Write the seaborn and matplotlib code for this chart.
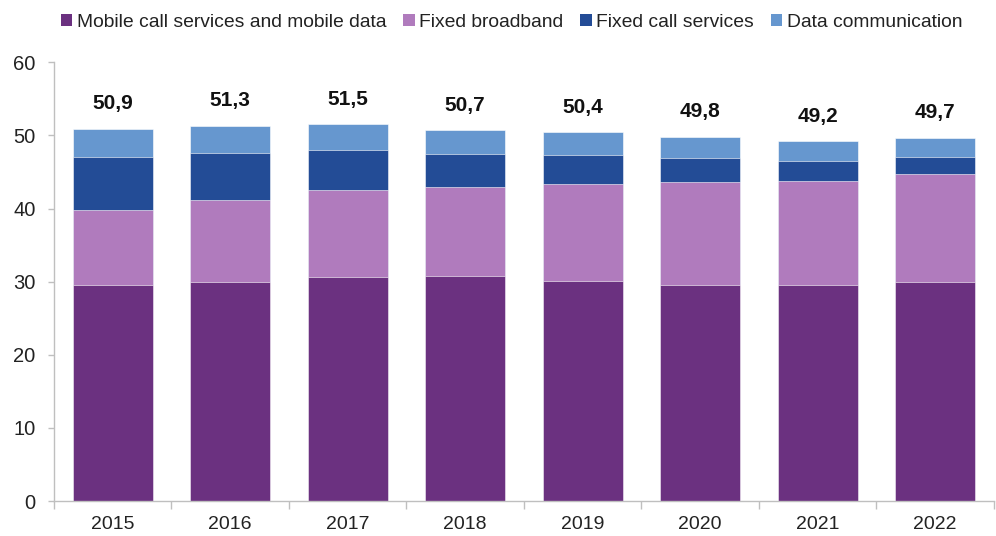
import matplotlib
matplotlib.use("Agg")
import matplotlib.pyplot as plt
from matplotlib.patches import Patch
import numpy as np
import pandas as pd
import seaborn as sns

years = ["2015", "2016", "2017", "2018", "2019", "2020", "2021", "2022"]
mobile = [29.5, 30.0, 30.6, 30.8, 30.1, 29.6, 29.5, 30.0]
fixed_broadband = [10.3, 11.2, 11.9, 12.1, 13.2, 14.0, 14.2, 14.7]
fixed_call = [7.3, 6.4, 5.5, 4.6, 4.0, 3.3, 2.8, 2.3]
data_comm = [3.8, 3.7, 3.5, 3.2, 3.1, 2.9, 2.7, 2.7]

series_names = ["Mobile call services and mobile data", "Fixed broadband",
                "Fixed call services", "Data communication"]
series_values = [mobile, fixed_broadband, fixed_call, data_comm]
colors = ["#6B3180", "#B07BBD", "#234C96", "#6697CF"]

sns.set_theme(style="white")
plt.rcParams["font.family"] = ["Liberation Sans", "DejaVu Sans"]

fig = plt.figure(figsize=(9.96, 5.36), dpi=100)
ax = fig.add_axes([0.054, 0.065, 0.944, 0.819])

# stacked bars: draw cumulative heights from the top layer downwards
cum = np.cumsum(np.array(series_values), axis=0)
for i in range(len(series_names) - 1, -1, -1):
    df = pd.DataFrame({"year": years, "value": np.round(cum[i], 2)})
    sns.barplot(data=df, x="year", y="value", color=colors[i], width=0.68,
                saturation=1, ax=ax, edgecolor="white", linewidth=0.4)

totals = cum[-1]
for x, t in enumerate(totals):
    ax.annotate(f"{t:.1f}".replace(".", ","), xy=(x, t), xytext=(0, 18),
                textcoords="offset points", ha="center", va="center",
                fontsize=15, fontweight="bold", color="#111111")

ax.set_ylim(0, 60)
ax.set_xlim(-0.5, len(years) - 0.5)
ax.set_yticks(range(0, 61, 10))
ax.set_xlabel("")
ax.set_ylabel("")

for s in ["top", "right"]:
    ax.spines[s].set_visible(False)
for s in ["left", "bottom"]:
    ax.spines[s].set_color("#BFBFBF")
    ax.spines[s].set_linewidth(1.0)

ax.tick_params(axis="y", which="major", length=4, width=1, color="#BFBFBF",
               labelsize=14.5, labelcolor="#222222", pad=9, left=True)
ax.tick_params(axis="x", which="major", length=0, labelsize=14,
               labelcolor="#222222", pad=11)
ax.set_xticks(np.arange(-0.5, len(years), 1.0), minor=True)
ax.tick_params(axis="x", which="minor", length=6, width=1, color="#BFBFBF",
               bottom=True)

handles = [Patch(facecolor=c, edgecolor="none") for c in colors]
fig.legend(handles, series_names, loc="center", bbox_to_anchor=(0.5136, 0.958),
           ncol=4, frameon=False, fontsize=13.9, handlelength=0.6,
           handleheight=0.6, handletextpad=0.25, columnspacing=0.85,
           labelcolor="#222222")

fig.savefig("out.png", dpi=100)
